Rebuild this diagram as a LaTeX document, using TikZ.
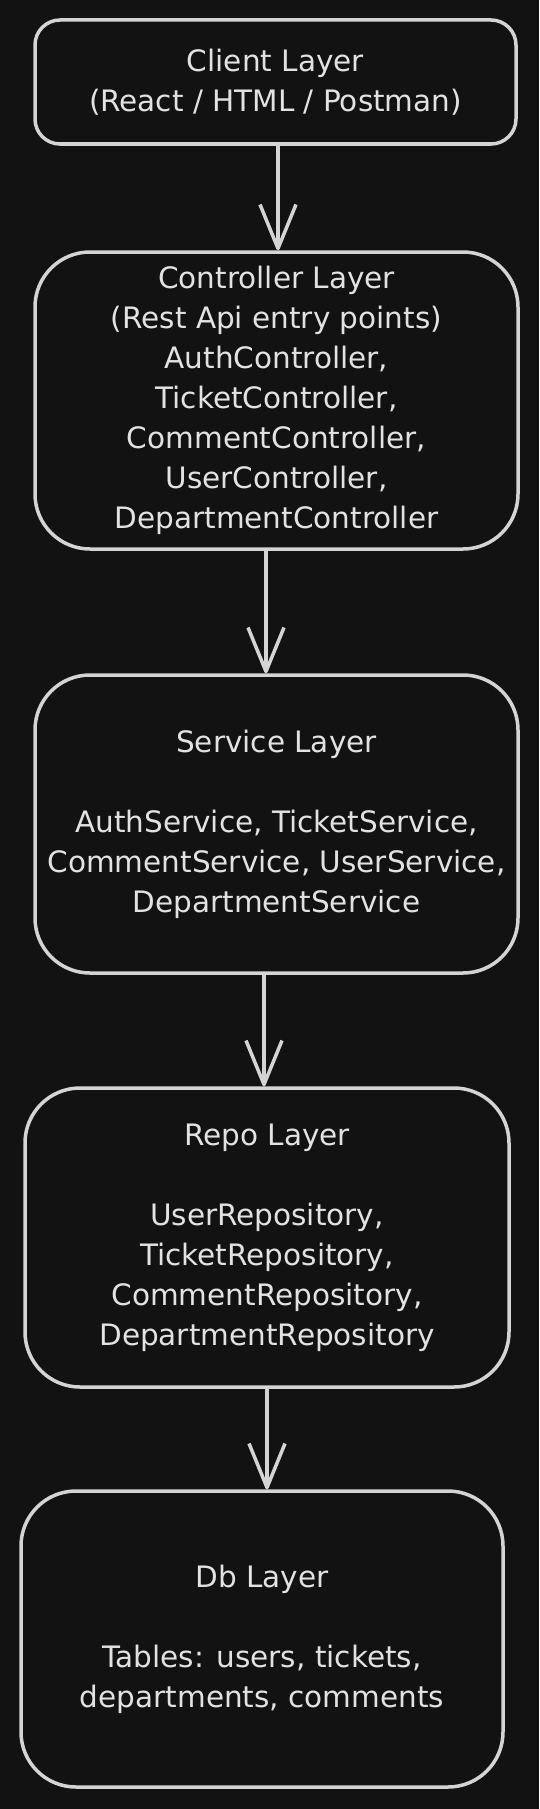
\documentclass[tikz,border=0pt]{standalone}
\usepackage{fontspec}
\setmainfont{DejaVu Sans}
\usepackage{tikz}
\usetikzlibrary{arrows.meta,positioning}
\usepackage{xcolor}
\definecolor{lybg}{RGB}{18,18,18}
\definecolor{lyline}{RGB}{212,212,212}
\definecolor{lytext}{RGB}{226,226,226}
\tikzstyle{layer} = [rectangle, draw=lyline, line width=3.5pt, text=lytext, align=center, inner sep=0pt, font=\fontsize{29.5}{40}\selectfont]
\tikzstyle{arrow} = [line width=3.5pt, line cap=round, color=lyline, -{Straight Barb[length=44pt, width=36pt, line join=round]}]

\begin{document}
\begin{tikzpicture}[x=1pt, y=-1pt]
    % background
    \fill[lybg] (0,0) rectangle (539,1809);
    \useasboundingbox (0,0) rectangle (539,1809);

    % Client layer
    \node[layer, minimum width=481pt, minimum height=124pt, rounded corners=25pt] (client) at (275.5, 82) {Client Layer\\(React / HTML / Postman)};

    % Controller layer
    \node[layer, minimum width=483pt, minimum height=297pt, rounded corners=55pt] (controller) at (276.5, 400.5) {Controller Layer\\(Rest Api entry points)\\AuthController,\\TicketController,\\CommentController,\\UserController,\\DepartmentController};

    % Service layer
    \node[layer, minimum width=483pt, minimum height=298pt, rounded corners=55pt] (service) at (276.5, 824) {Service Layer\\[40pt]AuthService, TicketService,\\CommentService, UserService,\\DepartmentService};

    % Repo layer
    \node[layer, minimum width=484pt, minimum height=299pt, rounded corners=55pt] (repo) at (267, 1237.5) {Repo Layer\\[40pt]UserRepository,\\TicketRepository,\\CommentRepository,\\DepartmentRepository};

    % Db layer
    \node[layer, minimum width=482pt, minimum height=296pt, rounded corners=55pt] (db) at (262, 1639) {Db Layer\\[40pt]Tables: users, tickets,\\departments, comments};

    % Arrows
    \draw[arrow] ([xshift=2.5pt]client.south) -- ([xshift=2.5pt]client.south |- controller.north);
    \draw[arrow] ([xshift=-10.5pt]controller.south) -- ([xshift=-10.5pt]controller.south |- service.north);
    \draw[arrow] ([xshift=-12.5pt]service.south) -- ([xshift=-12.5pt]service.south |- repo.north);
    \draw[arrow] (repo.south) -- (repo.south |- db.north);
\end{tikzpicture}
\end{document}
